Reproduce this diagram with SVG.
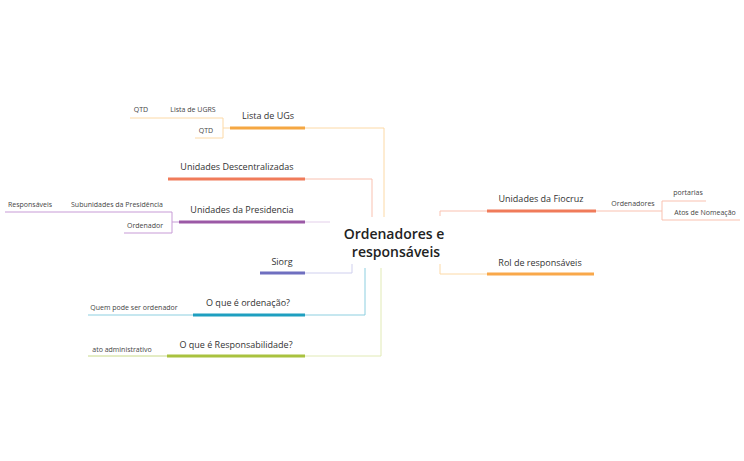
<svg xmlns="http://www.w3.org/2000/svg" width="744" height="461" viewBox="0 0 744 461">
<style>
text{font-family:"Open Sans","Liberation Sans",sans-serif;fill:#333}
.m{font-size:9px;text-anchor:middle}
.s{font-size:7px;text-anchor:middle;fill:#444}
.c{font-size:14px;font-weight:600;text-anchor:middle;fill:#222}
.b{stroke-width:3;fill:none}
.t{stroke-width:1;fill:none}
</style>
<rect width="744" height="461" fill="#fff"/>
<g id="connectors">
<path class="t" stroke="#FCD9A6" d="M305 128H384V217"/>
<path class="t" stroke="#F9C1B0" d="M305 179H372V217"/>
<path class="t" stroke="#E3CFEA" d="M305 222H330"/>
<path class="t" stroke="#CFCFEE" d="M305 273H352V264"/>
<path class="t" stroke="#8DCFE0" d="M305 315H365V268"/>
<path class="t" stroke="#E1EAB5" d="M305 356H381V268"/>
<path class="t" stroke="#F9C1B0" d="M487 211H440V216"/>
<path class="t" stroke="#FCD9A6" d="M487 274H440V264"/>
<path class="t" stroke="#FCD9A6" d="M230 128H223V118H130M223 128V138H195"/>
<path class="t" stroke="#C79BD6" d="M179 222H172V212H5M172 222V233H124"/>
<path class="t" stroke="#8DCFE0" d="M193 315H88"/>
<path class="t" stroke="#C8D98A" d="M167 356H88"/>
<path class="t" stroke="#F9C1B0" d="M596 211H662V201H706M662 211V220H740"/>
</g>
<g id="center"><text class="c" x="394" y="239">Ordenadores e</text><text class="c" x="396" y="257">responsáveis</text></g>
<g id="n1"><path class="b" stroke="#F5A742" d="M230 128H305"/><text class="m" x="268" y="119">Lista de UGs</text></g>
<g id="n1a"><text class="s" x="193" y="112">Lista de UGRS</text></g>
<g id="n1b"><text class="s" x="141" y="112">QTD</text></g>
<g id="n1c"><text class="s" x="206" y="133">QTD</text></g>
<g id="n2"><path class="b" stroke="#F07B5A" d="M168 179H305"/><text class="m" x="237" y="170">Unidades Descentralizadas</text></g>
<g id="n3"><path class="b" stroke="#9B59A6" d="M179 222H305"/><text class="m" x="242" y="213">Unidades da Presidencia</text></g>
<g id="n3a"><text class="s" x="117" y="207">Subunidades da Presidência</text></g>
<g id="n3b"><text class="s" x="30" y="207">Responsáveis</text></g>
<g id="n3c"><text class="s" x="145" y="228">Ordenador</text></g>
<g id="n4"><path class="b" stroke="#6F6FC0" d="M260 273H305"/><text class="m" x="282" y="265">Siorg</text></g>
<g id="n5"><path class="b" stroke="#1E9FC0" d="M193 315H305"/><text class="m" x="248" y="306">O que é ordenação?</text></g>
<g id="n5a"><text class="s" x="134" y="310">Quem pode ser ordenador</text></g>
<g id="n6"><path class="b" stroke="#A9C23F" d="M167 356H305"/><text class="m" x="236" y="348">O que é Responsabilidade?</text></g>
<g id="n6a"><text class="s" x="122" y="352">ato administrativo</text></g>
<g id="n7"><path class="b" stroke="#F07B5A" d="M487 211H596"/><text class="m" x="541" y="202">Unidades da Fiocruz</text></g>
<g id="n7a"><text class="s" x="633" y="206">Ordenadores</text></g>
<g id="n7b"><text class="s" x="688" y="195">portarias</text></g>
<g id="n7c"><text class="s" x="705" y="215">Atos de Nomeação</text></g>
<g id="n8"><path class="b" stroke="#F9A84A" d="M487 274H594"/><text class="m" x="540" y="266">Rol de responsáveis</text></g>
</svg>
